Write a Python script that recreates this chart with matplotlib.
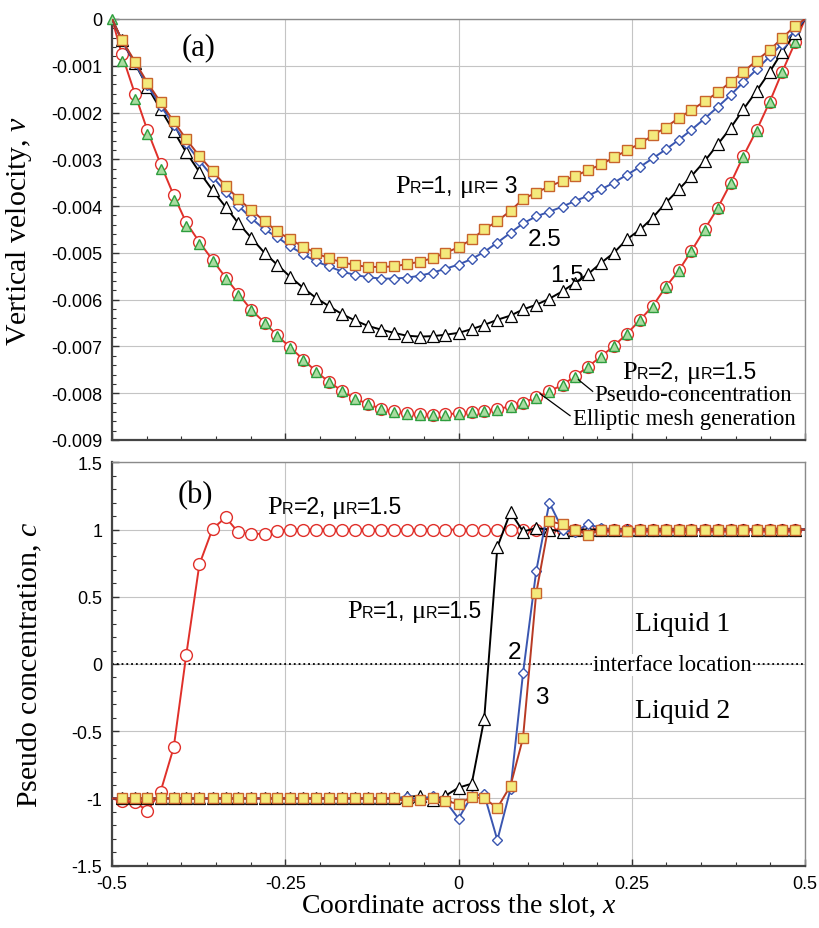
import numpy as np
import matplotlib
matplotlib.use('Agg')
import matplotlib.pyplot as plt
import matplotlib.transforms as mtransforms
from matplotlib.ticker import MultipleLocator, FuncFormatter

plt.rcParams['mathtext.fontset'] = 'custom'
plt.rcParams['mathtext.rm'] = 'Liberation Serif'
plt.rcParams['mathtext.it'] = 'Liberation Serif:italic'
plt.rcParams['axes.unicode_minus'] = False

SERIF = 'Liberation Serif'
SANS = 'Liberation Sans'

# grid nodes across the slot
x = [-0.5, -0.486, -0.467, -0.449, -0.430, -0.411, -0.393, -0.374, -0.355, -0.336,
     -0.318, -0.299, -0.280, -0.262, -0.243, -0.224, -0.206, -0.187, -0.168, -0.150,
     -0.131, -0.112, -0.093, -0.075, -0.056, -0.037, -0.019, 0.0,
     0.019, 0.037, 0.056, 0.075, 0.093, 0.112, 0.131, 0.150, 0.168, 0.187,
     0.206, 0.224, 0.243, 0.262, 0.280, 0.299, 0.318, 0.336, 0.355, 0.374,
     0.393, 0.411, 0.430, 0.449, 0.467, 0.486, 0.5]

# (a) vertical velocity, in units of 1e-3
v_mu3 = [0, -0.44, -0.91, -1.36, -1.78, -2.19, -2.57, -2.93, -3.25, -3.57,
         -3.84, -4.09, -4.32, -4.54, -4.71, -4.87, -5.00, -5.12, -5.20, -5.26,
         -5.30, -5.30, -5.29, -5.24, -5.19, -5.11, -5.00, -4.88,
         -4.71, -4.50, -4.32, -4.10, -3.85, -3.71, -3.58, -3.46, -3.36, -3.23,
         -3.11, -2.96, -2.81, -2.66, -2.49, -2.32, -2.11, -1.95, -1.76, -1.57,
         -1.34, -1.13, -0.89, -0.66, -0.41, -0.14, 0]
v_mu25 = [0, -0.45, -0.95, -1.42, -1.85, -2.27, -2.66, -3.03, -3.37, -3.70,
          -3.99, -4.26, -4.50, -4.66, -4.86, -5.03, -5.18, -5.29, -5.40, -5.47,
          -5.52, -5.55, -5.55, -5.53, -5.49, -5.42, -5.34, -5.25,
          -5.13, -4.98, -4.78, -4.57, -4.37, -4.22, -4.12, -4.01, -3.89, -3.78,
          -3.64, -3.50, -3.33, -3.16, -2.98, -2.79, -2.58, -2.37, -2.13, -1.88,
          -1.62, -1.35, -1.08, -0.80, -0.53, -0.25, 0]
v_mu15 = [0, -0.45, -0.95, -1.45, -1.93, -2.40, -2.85, -3.27, -3.66, -4.02,
          -4.36, -4.68, -5.00, -5.25, -5.51, -5.75, -5.96, -6.14, -6.31, -6.44,
          -6.56, -6.64, -6.71, -6.77, -6.79, -6.78, -6.75, -6.71,
          -6.63, -6.54, -6.43, -6.34, -6.21, -6.11, -5.98, -5.82, -5.64, -5.45,
          -5.21, -5.00, -4.71, -4.50, -4.25, -3.93, -3.64, -3.36, -3.04, -2.68,
          -2.32, -1.93, -1.54, -1.13, -0.70, -0.30, 0]
v_p2_pc = [0, -0.75, -1.60, -2.38, -3.10, -3.77, -4.35, -4.77, -5.15, -5.53,
           -5.87, -6.22, -6.49, -6.76, -7.02, -7.28, -7.53, -7.76, -7.95, -8.11,
           -8.23, -8.33, -8.39, -8.43, -8.45, -8.46, -8.45, -8.43,
           -8.40, -8.37, -8.34, -8.28, -8.20, -8.09, -7.96, -7.82, -7.64, -7.43,
           -7.21, -6.99, -6.73, -6.43, -6.14, -5.73, -5.37, -4.96, -4.50, -4.04,
           -3.50, -2.93, -2.38, -1.77, -1.13, -0.49, 0]
v_p2_em = [0, -0.89, -1.71, -2.46, -3.21, -3.86, -4.43, -4.80, -5.17, -5.55,
           -5.89, -6.23, -6.50, -6.77, -7.03, -7.29, -7.54, -7.77, -7.96, -8.12,
           -8.24, -8.34, -8.40, -8.44, -8.46, -8.47, -8.46, -8.44,
           -8.41, -8.38, -8.35, -8.29, -8.21, -8.10, -7.97, -7.83, -7.65, -7.44,
           -7.22, -7.00, -6.74, -6.44, -6.15, -5.74, -5.38, -4.97, -4.51, -4.05,
           -3.51, -2.94, -2.39, -1.78, -1.14, -0.50, 0]

# (b) pseudo concentration
c_p2 = [-1.0, -1.02, -1.03, -1.09, -0.95, -0.62, 0.065, 0.74, 1.005, 1.09,
        0.98, 0.965, 0.97, 0.99, 1.0, 1.0, 1.0, 1.0, 1.0, 1.0,
        1.0, 1.0, 1.0, 1.0, 1.0, 1.0, 1.0, 1.0,
        1.0, 1.0, 1.0, 1.0, 1.0, 1.0, 1.0, 1.0, 1.0, 1.0,
        1.0, 1.0, 1.0, 1.0, 1.0, 1.0, 1.0, 1.0, 1.0, 1.0,
        1.0, 1.0, 1.0, 1.0, 1.0, 1.0, 1.0]
c_mu15 = [-1.0, -1.0, -1.0, -1.0, -1.0, -1.0, -1.0, -1.0, -1.0, -1.0,
          -1.0, -1.0, -1.0, -1.0, -1.0, -1.0, -1.0, -1.0, -1.0, -1.0,
          -1.0, -1.0, -1.0, -0.99, -0.98, -1.01, -0.98, -0.92,
          -0.89, -0.41, 0.87, 1.13, 0.985, 1.01, 1.0, 0.985, 1.0, 1.0,
          1.0, 1.0, 1.0, 1.0, 1.0, 1.0, 1.0, 1.0, 1.0, 1.0,
          1.0, 1.0, 1.0, 1.0, 1.0, 1.0, 1.0]
c_mu2 = [-1.0, -1.0, -1.0, -1.0, -1.0, -1.0, -1.0, -1.0, -1.0, -1.0,
         -1.0, -1.0, -1.0, -1.0, -1.0, -1.0, -1.0, -1.0, -1.0, -1.0,
         -1.0, -1.0, -1.0, -0.99, -1.01, -0.98, -1.02, -1.15,
         -0.98, -0.97, -1.31, -0.93, -0.07, 0.69, 1.20, 1.0, 0.985, 1.04,
         1.01, 1.0, 1.0, 1.0, 1.0, 1.0, 1.0, 1.0, 1.0, 1.0,
         1.0, 1.0, 1.0, 1.0, 1.0, 1.0, 1.0]
c_mu3 = [-1.0, -1.0, -1.0, -1.0, -1.0, -1.0, -1.0, -1.0, -1.0, -1.0,
         -1.0, -1.0, -1.0, -1.0, -1.0, -1.0, -1.0, -1.0, -1.0, -1.0,
         -1.0, -1.0, -1.0, -1.02, -1.01, -1.0, -1.02, -1.04,
         -0.99, -1.0, -1.07, -0.905, -0.55, 0.525, 1.06, 1.04, 1.0, 0.96,
         1.0, 1.0, 0.99, 1.0, 1.0, 1.0, 1.0, 1.0, 1.0, 1.0,
         1.0, 1.0, 1.0, 1.0, 1.0, 1.0, 1.0]

x_ticks = [-0.5, -0.25, 0, 0.25, 0.5]

# marker styles
sq = dict(marker='s', ms=7.5, mfc='#f4ea7c', mec='#c8642c', mew=1.0, color='#b83a24', lw=1.4)
dia = dict(marker='D', ms=5.5, mfc='white', mec='#3a56b0', mew=1.0, color='#3a56b0', lw=1.4)
tri = dict(marker='^', ms=8.5, mfc='white', mec='black', mew=0.9, color='black', lw=1.4)
circ = dict(marker='o', ms=8.5, mfc='white', mec='#e0302a', mew=1.0, color='#e0302a', lw=1.4)
gtri = dict(marker='^', ms=7.5, mfc='#a9dca0', mec='#2e9e3e', mew=1.0, ls='none')
inner = slice(1, -1)

fig = plt.figure(figsize=(8.19, 9.29), dpi=100)
ax1 = fig.add_axes([0.1368, 0.5253, 0.8462, 0.4532])
ax2 = fig.add_axes([0.1368, 0.0671, 0.8462, 0.4342])

xa = np.array(x)
ax1.plot(xa, np.array(v_p2_pc) * 1e-3, markevery=inner, zorder=3, **circ)
ax1.plot(xa, np.array(v_p2_em) * 1e-3, markevery=slice(0, -1), zorder=4, clip_on=False, **gtri)
ax1.plot(xa, np.array(v_mu15) * 1e-3, markevery=inner, zorder=5, **tri)
ax1.plot(xa, np.array(v_mu25) * 1e-3, markevery=inner, zorder=6, **dia)
ax1.plot(xa, np.array(v_mu3) * 1e-3, markevery=inner, zorder=7, **sq)

ax2.plot(xa, c_p2, markevery=inner, zorder=3, **circ)
ax2.plot(xa, c_mu15, markevery=inner, zorder=4, **tri)
ax2.plot(xa, c_mu2, markevery=inner, zorder=5, **dia)
ax2.plot(xa, c_mu3, markevery=inner, zorder=6, **sq)
ax2.axhline(0, color='black', ls=':', lw=1.3, zorder=2)

fmt = FuncFormatter(lambda v, p: f'{v:g}' if abs(v) > 1e-12 else '0')
for ax in (ax1, ax2):
    ax.set_xlim(-0.5, 0.5)
    ax.set_xticks(x_ticks)
    ax.xaxis.set_minor_locator(MultipleLocator(0.05))
    ax.grid(True, which='major', color='#c4c4c4', lw=0.8, zorder=0)
    ax.set_axisbelow(True)
    ax.tick_params(which='both', direction='in', top=False, right=False,
                   labelsize=13, colors='#333333', labelcolor='black')
    ax.tick_params(which='major', length=5, width=1.0, pad=7)
    ax.tick_params(which='minor', length=3, width=0.8)
    for lab in ax.get_xticklabels() + ax.get_yticklabels():
        lab.set_family(SANS)
    ax.spines['left'].set(color='#444444', lw=1.6)
    ax.spines['bottom'].set(color='#444444', lw=1.6)
    ax.spines['top'].set(color='#8a8a8a', lw=1.0)
    ax.spines['right'].set(color='#8a8a8a', lw=1.0)
    ax.yaxis.set_major_formatter(fmt)
    ax.xaxis.set_major_formatter(fmt)

ax1.set_ylim(-0.009, 0)
ax1.yaxis.set_major_locator(MultipleLocator(0.001))
ax1.yaxis.set_minor_locator(MultipleLocator(0.0002))
ax1.tick_params(labelbottom=False)

ax2.set_ylim(-1.5, 1.5)
ax2.yaxis.set_major_locator(MultipleLocator(0.5))
ax2.yaxis.set_minor_locator(MultipleLocator(0.1))

ax1.set_ylabel('Vertical velocity, $v$', family=SERIF, fontsize=21.5)
ax2.set_ylabel('Pseudo concentration, $c$', family=SERIF, fontsize=21.5)
ax2.set_xlabel('Coordinate across the slot, $x$', family=SERIF, fontsize=20)
ax1.yaxis.set_label_coords(-0.112, 0.5)
ax2.yaxis.set_label_coords(-0.098, 0.5)
ax2.xaxis.set_label_coords(0.5, -0.064)

renderer = fig.canvas.get_renderer()


def rich_text(ax, x0, y0, parts):
    # pieces of text set one after another on a common baseline
    dx = 0.0
    for s, fam, size, gap in parts:
        tr = mtransforms.offset_copy(ax.transData, fig=fig, x=dx, y=0, units='dots')
        t = ax.text(x0, y0, s, family=fam, fontsize=size, transform=tr,
                    ha='left', va='baseline', zorder=10)
        dx += t.get_window_extent(renderer=renderer).width + gap


def pr_mu(p, mu, sp=''):
    return [('P', SERIF, 19, 0), ('R', SANS, 11.5, 0), ('=' + p + ',', SANS, 16.5, 6),
            ('\u03bc', SERIF, 19, 0), ('R', SANS, 11.5, 0), ('=' + sp + mu, SANS, 16.5, 0)]


# panel (a) annotations
ax1.text(-0.3995, -0.00075, '(a)', family=SERIF, fontsize=22, va='baseline')
rich_text(ax1, -0.0916, -0.00370, pr_mu('1', '3', ' '))
rich_text(ax1, 0.236, -0.00767, pr_mu('2', '1.5'))
ax1.text(0.100, -0.00484, '2.5', family=SANS, fontsize=17.5, va='baseline', zorder=10)
ax1.text(0.132, -0.00561, '1.5', family=SANS, fontsize=17.5, va='baseline', zorder=10)
ax1.text(0.1955, -0.00814, 'Pseudo-concentration', family=SERIF, fontsize=16.4, va='baseline', zorder=10)
ax1.text(0.165, -0.00865, 'Elliptic mesh generation', family=SERIF, fontsize=16.4, va='baseline', zorder=10)
ax1.plot([0.1935, 0.1729], [-0.00796, -0.00771], color='black', lw=0.9, zorder=9)
ax1.plot([0.1609, 0.1176], [-0.00848, -0.00801], color='black', lw=0.9, zorder=9)

# panel (b) annotations
ax2.text(-0.405, 1.20, '(b)', family=SERIF, fontsize=22, va='baseline')
rich_text(ax2, -0.276, 1.125, pr_mu('2', '1.5'))
rich_text(ax2, -0.161, 0.35, pr_mu('1', '1.5'))
ax2.text(0.0714, 0.043, '2', family=SANS, fontsize=17.5, va='baseline', zorder=10)
ax2.text(0.1104, -0.29, '3', family=SANS, fontsize=17.5, va='baseline', zorder=10)
ax2.text(0.2547, 0.25, 'Liquid 1', family=SERIF, fontsize=20, va='baseline', zorder=10)
ax2.text(0.2547, -0.395, 'Liquid 2', family=SERIF, fontsize=20, va='baseline', zorder=10)
ax2.text(0.194, -0.047, 'interface location', family=SERIF, fontsize=16.4, va='baseline',
         zorder=10, bbox=dict(facecolor='white', edgecolor='none', pad=0.5))

fig.savefig('out.png', dpi=100)
